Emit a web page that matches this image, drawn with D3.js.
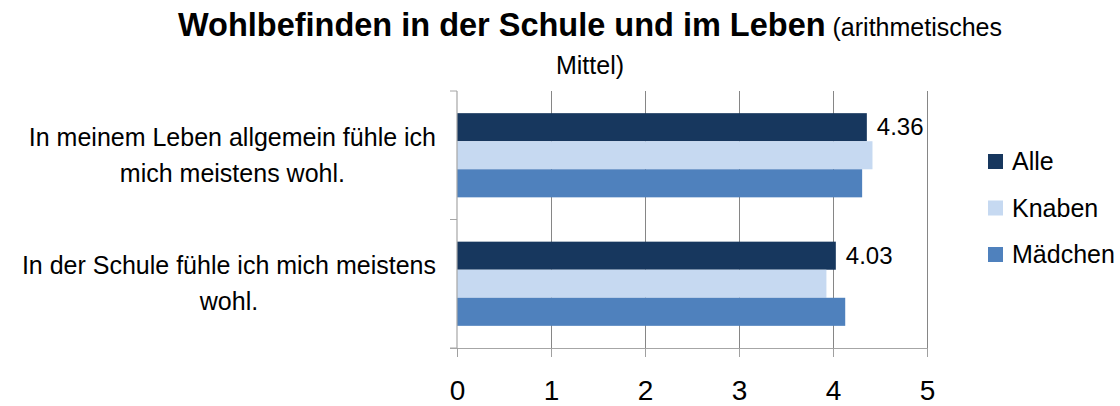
<!DOCTYPE html>
<html lang="de">
<head>
<meta charset="utf-8">
<script src="https://cdn.jsdelivr.net/npm/d3@7"></script>
<style>
  html, body { margin: 0; padding: 0; background: #fff; }
  svg { display: block; font-family: "Liberation Sans", Arial, sans-serif; }
</style>
</head>
<body>
<svg id="chart" width="1120" height="406"></svg>
<script>
// ── Daten ────────────────────────────────────────────────────────────────────
const categories = [
  ['In meinem Leben allgemein fühle ich', 'mich meistens wohl.'],
  ['In der Schule fühle ich mich meistens', 'wohl.']
];
const seriesNames = ['Alle', 'Knaben', 'Mädchen'];
const valuesAlle    = [4.36, 4.03];
const valuesKnaben  = [4.42, 3.93];
const valuesMaedchen = [4.31, 4.13];
const xTicks = [0, 1, 2, 3, 4, 5];

const COLORS = { 'Alle': '#17375E', 'Knaben': '#C6D9F1', 'Mädchen': '#4F81BD' };
const FONT = '"Liberation Sans", Arial, sans-serif';

const plot = { left: 457, right: 927, top: 91, bottom: 348 };

const svg = d3.select('#chart');

const catKeys = categories.map(c => c.join(' '));
const seriesValues = { 'Alle': valuesAlle, 'Knaben': valuesKnaben, 'Mädchen': valuesMaedchen };

const rows = [];
catKeys.forEach((c, i) => {
  seriesNames.forEach(s => rows.push({ cat: c, series: s, value: seriesValues[s][i] }));
});

// ── Skalen ───────────────────────────────────────────────────────────────────
const x = d3.scaleLinear().domain([0, 5]).range([plot.left, plot.right]);
const y0 = d3.scaleBand().domain(catKeys).range([plot.top, plot.bottom]).padding(0);
const y1 = d3.scaleBand().domain(seriesNames).range([0, y0.bandwidth()])
  .paddingInner(0).paddingOuter(0.79);

// ── Gitterlinien ─────────────────────────────────────────────────────────────
svg.append('g')
  .attr('transform', `translate(0,${plot.bottom})`)
  .call(d3.axisBottom(x).tickValues(xTicks.slice(1)).tickSize(-(plot.bottom - plot.top)).tickFormat(''))
  .call(g => g.select('.domain').remove())
  .call(g => g.selectAll('.tick line').attr('stroke', '#868686'));

// ── Balken ───────────────────────────────────────────────────────────────────
svg.append('g').selectAll('rect')
  .data(rows)
  .join('rect')
  .attr('x', x(0))
  .attr('y', d => y0(d.cat) + y1(d.series))
  .attr('width', d => x(d.value) - x(0))
  .attr('height', y1.bandwidth())
  .attr('fill', d => COLORS[d.series]);

// ── X-Achse ──────────────────────────────────────────────────────────────────
const xAxis = svg.append('g')
  .attr('transform', `translate(0,${plot.bottom})`)
  .call(d3.axisBottom(x).tickValues(xTicks).tickSize(9).tickPadding(23).tickFormat(d3.format('d')));
xAxis.select('.domain').attr('stroke', '#A6A6A6').attr('stroke-width', 1.2)
  .attr('d', `M${plot.left - 7},0.5H${plot.right}`);
xAxis.selectAll('.tick line').attr('stroke', '#A0A0A0');
xAxis.selectAll('.tick text')
  .attr('fill', '#000')
  .style('font-family', FONT)
  .style('font-size', '28px');

// ── Y-Achse (Kategorien) ─────────────────────────────────────────────────────
svg.append('line')
  .attr('x1', plot.left).attr('x2', plot.left)
  .attr('y1', plot.top).attr('y2', plot.bottom)
  .attr('stroke', '#A6A6A6').attr('stroke-width', 1.2);

const boundaries = catKeys.map(c => y0(c)).concat([plot.bottom]);
svg.append('g').selectAll('line')
  .data(boundaries)
  .join('line')
  .attr('x1', plot.left - 7).attr('x2', plot.left)
  .attr('y1', d => d).attr('y2', d => d)
  .attr('stroke', '#A6A6A6');

const labelGroups = svg.append('g').selectAll('text')
  .data(categories)
  .join('text')
  .attr('text-anchor', 'middle')
  .style('font-family', FONT)
  .style('font-size', '25px')
  .attr('fill', '#000');

labelGroups.each(function(lines, i) {
  const t = d3.select(this);
  const cy = y0(catKeys[i]) + y0.bandwidth() / 2;
  lines.forEach((line, j) => {
    t.append('tspan')
      .attr('y', cy + (j - (lines.length - 1) / 2) * 36 + 8.5)
      .text(line);
  });
  // Zentrieren, rechte Kante der längsten Zeile bei ~436
  let maxW = 0;
  t.selectAll('tspan').each(function() { maxW = Math.max(maxW, this.getComputedTextLength()); });
  t.selectAll('tspan').attr('x', 436 - maxW / 2);
});

// ── Datenbeschriftung (nur Alle) ─────────────────────────────────────────────
svg.append('g').selectAll('text')
  .data(rows.filter(d => d.series === 'Alle'))
  .join('text')
  .attr('x', d => x(d.value) + 10)
  .attr('y', d => y0(d.cat) + y1(d.series) + y1.bandwidth() / 2 + 8)
  .style('font-family', FONT)
  .style('font-size', '24px')
  .attr('fill', '#000')
  .text(d => d3.format('.2f')(d.value));

// ── Legende ──────────────────────────────────────────────────────────────────
const legend = svg.append('g').selectAll('g')
  .data(seriesNames)
  .join('g')
  .attr('transform', (d, i) => `translate(988,${161.5 + i * 46.5})`);
legend.append('rect')
  .attr('x', 0).attr('y', -7.5).attr('width', 15).attr('height', 15)
  .attr('fill', d => COLORS[d]);
legend.append('text')
  .attr('x', 24).attr('y', 8.5)
  .style('font-family', FONT)
  .style('font-size', '25px')
  .attr('fill', '#000')
  .text(d => d);

// ── Titel ────────────────────────────────────────────────────────────────────
const title = svg.append('text')
  .attr('x', 590).attr('y', 36)
  .attr('text-anchor', 'middle')
  .style('font-family', FONT)
  .attr('fill', '#000');
title.append('tspan').style('font-weight', 'bold').style('font-size', '32.5px')
  .text('Wohlbefinden in der Schule und im Leben');
title.append('tspan').style('font-size', '25px').text(' (arithmetisches');
svg.append('text')
  .attr('x', 590).attr('y', 74)
  .attr('text-anchor', 'middle')
  .style('font-family', FONT)
  .style('font-size', '25px')
  .attr('fill', '#000')
  .text('Mittel)');
</script>
</body>
</html>
